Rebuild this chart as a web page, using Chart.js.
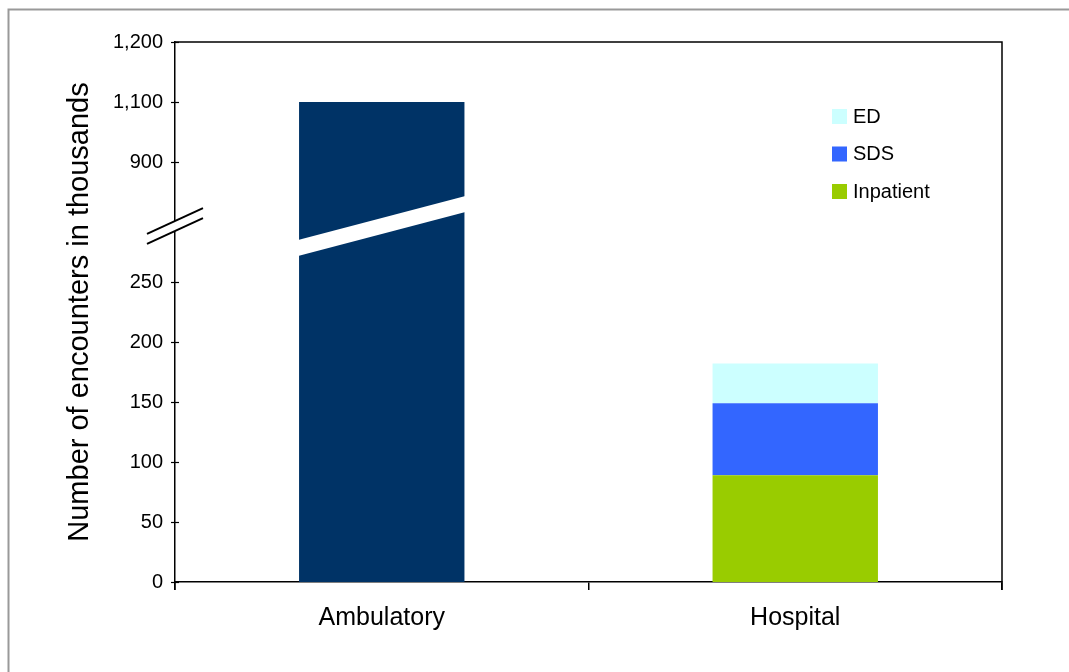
<!DOCTYPE html>
<html>
<head>
<meta charset="utf-8">
<script src="https://cdn.jsdelivr.net/npm/chart.js@4.4.1/dist/chart.umd.min.js"></script>
<style>
  body { margin: 0; background: #fff; }
  canvas { display: block; }
</style>
</head>
<body>
<canvas id="chartArea" width="1069" height="672"></canvas>
<script>
    // categories and series (thousands of encounters)
    const categories = ['Ambulatory', 'Hospital'];
    const ambulatory = [1100, null];
    const inpatient = [null, 89];
    const sds = [null, 60];
    const ed = [null, 33];

    // broken y axis: lower part is linear, upper part is relabelled
    const lowerTicks = [0, 50, 100, 150, 200, 250];
    const upperTickLabels = [900, 1100, 1200];
    const upperTickSlots = [350, 400, 450];
    const breakAt = 300;

    function toAxis(v) {
        if (v == null) return null;
        if (v <= lowerTicks[lowerTicks.length - 1]) return v;
        for (let i = 0; i < upperTickLabels.length - 1; i++) {
            let a = upperTickLabels[i], b = upperTickLabels[i + 1];
            if (v >= a && v <= b) {
                return upperTickSlots[i] + (v - a) / (b - a) * (upperTickSlots[i + 1] - upperTickSlots[i]);
            }
        }
        return upperTickSlots[upperTickSlots.length - 1];
    }

    function tickLabel(value) {
        let i = upperTickSlots.indexOf(value);
        if (i >= 0) return upperTickLabels[i].toLocaleString('en-US');
        if (lowerTicks.includes(value)) return String(value);
        return '';
    }

    const font = "'Liberation Sans', Arial, sans-serif";

    const decor = {
        id: 'decor',
        beforeDraw(chart) {
            const ctx = chart.ctx;
            ctx.save();
            ctx.fillStyle = '#fff';
            ctx.fillRect(0, 0, chart.width, chart.height);
            // outer frame (top and left only visible)
            ctx.strokeStyle = '#999';
            ctx.lineWidth = 2;
            ctx.beginPath();
            ctx.moveTo(8.5, chart.height);
            ctx.lineTo(8.5, 9.5);
            ctx.lineTo(chart.width, 9.5);
            ctx.stroke();
            ctx.restore();
        },
        afterDraw(chart) {
            const ctx = chart.ctx;
            const area = chart.chartArea;
            const y = chart.scales.y;
            ctx.save();
            ctx.strokeStyle = '#000';
            ctx.lineWidth = 1.5;
            // top and right frame of plot
            ctx.beginPath();
            ctx.moveTo(area.left, area.top);
            ctx.lineTo(area.right, area.top);
            ctx.lineTo(area.right, area.bottom + 8);
            ctx.stroke();
            // cross ticks on y axis
            ctx.lineWidth = 1.2;
            y.ticks.forEach(t => {
                let py = Math.round(y.getPixelForValue(t.value)) + 0.5;
                ctx.beginPath();
                ctx.moveTo(area.left - 4, py);
                ctx.lineTo(area.left + 4, py);
                ctx.stroke();
            });
            ctx.beginPath();
            ctx.moveTo(area.left, area.bottom);
            ctx.lineTo(area.left, area.bottom + 8);
            ctx.stroke();

            // break band across the ambulatory bar
            const yb = y.getPixelForValue(breakAt) + 4;
            const bar = chart.getDatasetMeta(0).data[0];
            const half = bar.width / 2;
            const slope = 44 / bar.width;
            ctx.fillStyle = '#fff';
            ctx.beginPath();
            ctx.moveTo(bar.x - half - 1, yb + half * slope - 8);
            ctx.lineTo(bar.x + half + 1, yb - half * slope - 8);
            ctx.lineTo(bar.x + half + 1, yb - half * slope + 8);
            ctx.lineTo(bar.x - half - 1, yb + half * slope + 8);
            ctx.closePath();
            ctx.fill();

            // break mark on the axis
            const ax = area.left;
            const s = 25 / 54;
            ctx.beginPath();
            ctx.moveTo(ax - 28, yb + 28 * s - 5);
            ctx.lineTo(ax + 28, yb - 28 * s - 5);
            ctx.lineTo(ax + 28, yb - 28 * s + 5);
            ctx.lineTo(ax - 28, yb + 28 * s + 5);
            ctx.closePath();
            ctx.fill();
            ctx.strokeStyle = '#000';
            ctx.lineWidth = 2;
            [-5, 5].forEach(o => {
                ctx.beginPath();
                ctx.moveTo(ax - 28, yb + 28 * s + o);
                ctx.lineTo(ax + 28, yb - 28 * s + o);
                ctx.stroke();
            });

            // legend inside the plot
            const items = chart.data.datasets.filter(d => d.inLegend).reverse();
            ctx.font = '20px ' + font;
            ctx.textBaseline = 'middle';
            ctx.textAlign = 'left';
            items.forEach((d, i) => {
                let ly = 116 + i * 37.5;
                ctx.fillStyle = d.backgroundColor;
                ctx.fillRect(832, ly - 7, 15, 15);
                ctx.fillStyle = '#000';
                ctx.fillText(d.label, 853, ly + 1);
            });
            ctx.restore();
        }
    };

    const canvas = document.getElementById('chartArea');
    const chartJs = new Chart(canvas, {
        type: 'bar',
        data: {
            labels: categories,
            datasets: [
                { label: 'Ambulatory', data: ambulatory.map(toAxis), backgroundColor: '#003366', inLegend: false },
                { label: 'Inpatient', data: inpatient, backgroundColor: '#99CC00', inLegend: true },
                { label: 'SDS', data: sds, backgroundColor: '#3366FF', inLegend: true },
                { label: 'ED', data: ed, backgroundColor: '#CCFFFF', inLegend: true }
            ]
        },
        options: {
            responsive: false,
            animation: false,
            barPercentage: 0.4,
            categoryPercentage: 1,
            layout: { padding: { left: 0, top: 42, right: 67, bottom: 0 } },
            plugins: {
                legend: { display: false },
                tooltip: { enabled: false }
            },
            scales: {
                x: {
                    stacked: true,
                    afterFit: s => { s.height = 90; },
                    grid: { offset: true, drawOnChartArea: false, tickLength: 8, color: '#000', lineWidth: 1.5 },
                    border: { color: '#000', width: 1.5 },
                    ticks: { color: '#000', padding: 13, font: { family: font, size: 25 } }
                },
                y: {
                    stacked: true,
                    min: 0,
                    max: 450,
                    afterFit: s => { s.width = 175; },
                    afterBuildTicks: s => {
                        s.ticks = lowerTicks.concat(upperTickSlots).map(v => ({ value: v }));
                    },
                    grid: { display: false },
                    border: { color: '#000', width: 1.5 },
                    ticks: {
                        color: '#000',
                        padding: 4,
                        font: { family: font, size: 20 },
                        callback: value => tickLabel(value)
                    },
                    title: {
                        display: true,
                        text: 'Number of encounters in thousands',
                        color: '#000',
                        font: { family: font, size: 29 },
                        padding: { top: 63, bottom: 0 }
                    }
                }
            }
        },
        plugins: [decor]
    });
</script>
</body>
</html>
